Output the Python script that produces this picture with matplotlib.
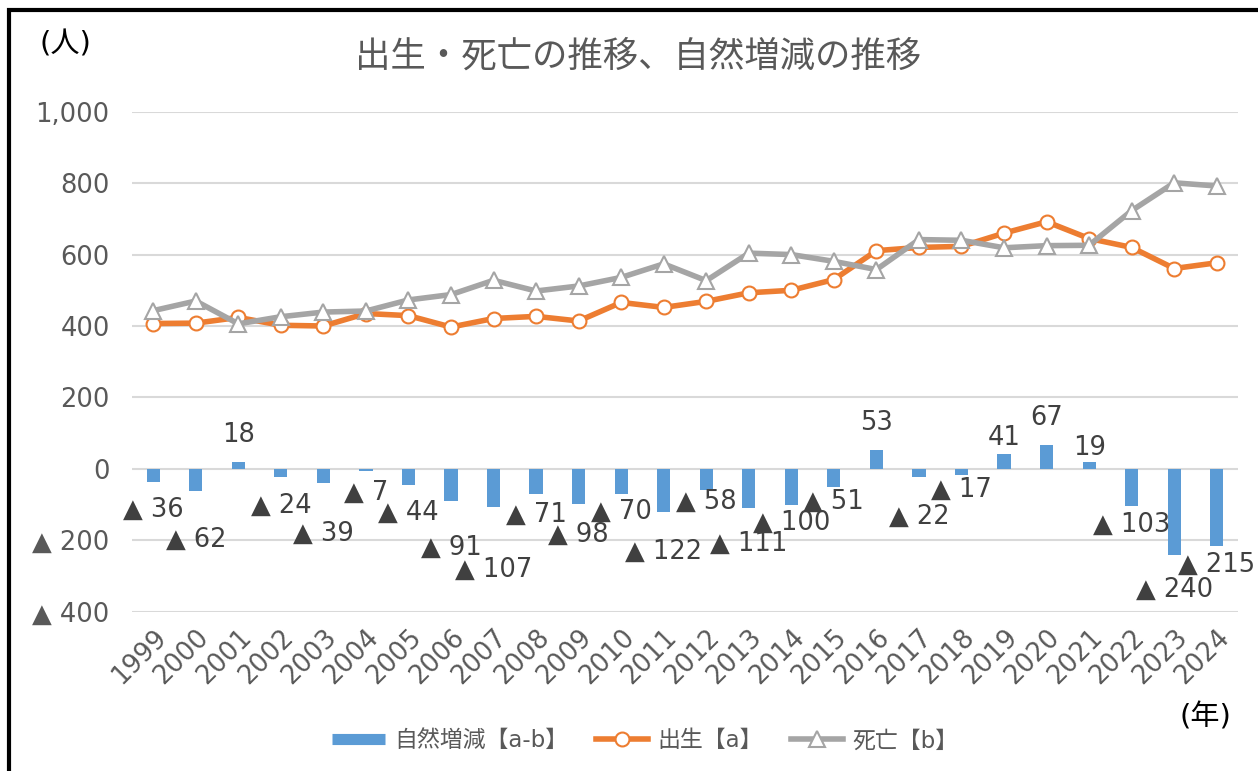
import matplotlib
matplotlib.use('Agg')
import matplotlib.pyplot as plt
from matplotlib.ticker import FuncFormatter
from matplotlib.patches import Rectangle
from matplotlib.lines import Line2D
import numpy as np

# 数字はDejaVu、漢字はNoto CJKへ
plt.rcParams['font.family'] = ['DejaVu Sans', 'Noto Sans CJK JP']

# 年次
years = [str(y) for y in range(1999, 2025)]
# 出生【a】
births = [407, 408, 424, 402, 400, 435, 429, 397, 421, 427, 414, 466, 452, 469,
          493, 500, 530, 611, 620, 623, 660, 692, 645, 620, 561, 577]
# 自然増減【a-b】
change = [-36, -62, 18, -24, -39, -7, -44, -91, -107, -71, -98, -70, -122, -58,
          -111, -100, -51, 53, -22, -17, 41, 67, 19, -103, -240, -215]
# 死亡【b】
deaths = [443, 470, 406, 426, 439, 442, 473, 488, 528, 498, 512, 536, 574, 527,
          604, 600, 581, 558, 642, 640, 619, 625, 626, 723, 801, 792]

# ラベルの縦位置 (Excelで手動配置されたもの)
label_y = [-114, -200, 95, -103, -181, -67, -122, -220, -283, -128, -185, -120, -233,
           -93, -211, -151, -93, 127, -135, -58, 85, 141, 58, -158, -338, -269]

BLUE = '#5B9BD5'
ORANGE = '#ED7D31'
GRAY = '#A5A5A5'
TXT = '#595959'
LBL = '#404040'

fig = plt.figure(figsize=(12.58, 7.71), dpi=100)
ax = fig.add_axes([0.1049, 0.2066, 0.8792, 0.6485])

x = np.arange(len(years))
ax.bar(x, change, width=0.31, color=BLUE, zorder=2)
ax.plot(x, births, color=ORANGE, lw=4, marker='o', ms=10, mfc='white',
        mec=ORANGE, mew=1.5, zorder=3)
ax.plot(x, deaths, color=GRAY, lw=4, marker='^', ms=11, mfc='white',
        mec=GRAY, mew=1.5, zorder=4)


def fmt(v):
    return f'▲ {abs(v):,.0f}' if v < 0 else f'{v:,.0f}'


for xi, v, ly in zip(x, change, label_y):
    ax.text(xi, ly, fmt(v), ha='center', va='center', fontsize=18.5, color=LBL, zorder=5)

ax.set_xlim(-0.5, len(years) - 0.5)
ax.set_ylim(-400, 1000)
ax.set_yticks(range(-400, 1001, 200))
ax.yaxis.set_major_formatter(FuncFormatter(lambda v, p: fmt(v)))
ax.set_xticks(x)
ax.set_xticklabels(years, rotation=45, ha='right', rotation_mode='anchor')
ax.tick_params(axis='both', length=0, labelsize=18.5, labelcolor=TXT)
ax.tick_params(axis='y', pad=16)
ax.tick_params(axis='x', pad=9)
ax.grid(axis='y', color='#D9D9D9', lw=1.5, zorder=0)
ax.set_axisbelow(True)
for s in ax.spines.values():
    s.set_visible(False)

fig.text(0.507, 0.926, '出生・死亡の推移、自然増減の推移', ha='center', va='center',
         fontsize=25.5, color=TXT, family=['Noto Sans CJK JP'])
fig.text(0.052, 0.942, '(人)', ha='center', va='center', fontsize=21, color='black')
fig.text(0.958, 0.069, '(年)', ha='center', va='center', fontsize=21, color='black')

handles = [
    Line2D([], [], color=BLUE, lw=8, solid_capstyle='butt'),
    Line2D([], [], color=ORANGE, lw=4, marker='o', ms=10, mfc='white', mec=ORANGE, mew=1.5),
    Line2D([], [], color=GRAY, lw=4, marker='^', ms=11, mfc='white', mec=GRAY, mew=1.5),
]
labels = ['自然増減【a-b】', '出生【a】', '死亡【b】']
fig.legend(handles, labels, loc='center', bbox_to_anchor=(0.513, 0.039), ncol=3,
           frameon=False, fontsize=16.5, labelcolor=TXT, handlelength=2.3,
           handletextpad=0.4, columnspacing=1.2)

# 外枠
fig.add_artist(Rectangle((9 / 1258, -0.1), 1.2, 1.1 - 10 / 771,
                         transform=fig.transFigure, fill=False, lw=3, ec='black'))

fig.savefig('out.png', dpi=100)
